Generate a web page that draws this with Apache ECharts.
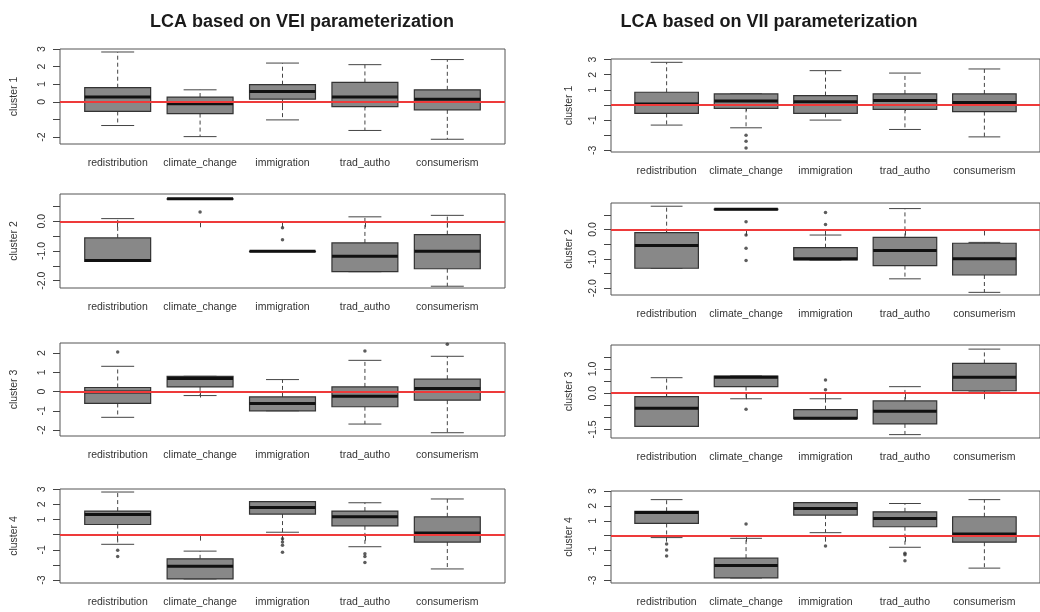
<!DOCTYPE html>
<html>
<head>
<meta charset="utf-8">
<script src="https://cdn.jsdelivr.net/npm/echarts@6/dist/echarts.min.js"></script>
<style>
  html, body { margin: 0; padding: 0; background: #ffffff; }
  #chart { width: 1040px; height: 612px; }
</style>
</head>
<body>
<div id="chart"></div>
<script>
// Indicators shown on every panel
const categories = ['redistribution', 'climate_change', 'immigration', 'trad_autho', 'consumerism'];

// Box summaries per indicator: [lower whisker, Q1, median, Q3, upper whisker]
// Outliers: [indicator position (1-5), value]

// --- LCA based on VEI parameterization ---
const veiCluster1 = [[-1.35, -0.55, 0.27, 0.80, 2.83], [-1.98, -0.67, -0.11, 0.27, 0.68], [-1.03, 0.15, 0.59, 0.97, 2.20], [-1.63, -0.27, 0.27, 1.10, 2.11], [-2.13, -0.46, 0.15, 0.68, 2.40]];
const veiCluster1Outliers = [];
const veiCluster2 = [[-1.35, -1.35, -1.32, -0.56, 0.09], [0.76, 0.76, 0.76, 0.76, 0.76], [-1.01, -1.01, -1.01, -1.01, -1.01], [-1.70, -1.70, -1.18, -0.73, 0.15], [-2.19, -1.60, -1.01, -0.45, 0.20]];
const veiCluster2Outliers = [[2, 0.31], [3, -0.22], [3, -0.62]];
const veiCluster3 = [[-1.34, -0.62, -0.02, 0.21, 1.31], [-0.21, 0.24, 0.67, 0.79, 0.79], [-1.00, -1.00, -0.62, -0.28, 0.62], [-1.69, -0.79, -0.24, 0.24, 1.62], [-2.14, -0.45, 0.16, 0.64, 1.83]];
const veiCluster3Outliers = [[1, 2.05], [4, 2.10], [5, 2.45]];
const veiCluster4 = [[-0.64, 0.67, 1.33, 1.56, 2.82], [-2.93, -2.93, -2.09, -1.60, -1.09], [0.16, 1.36, 1.80, 2.18, 2.18], [-0.80, 0.58, 1.18, 1.56, 2.11], [-2.27, -0.49, 0.11, 1.18, 2.36]];
const veiCluster4Outliers = [[1, -1.04], [1, -1.44], [3, -0.27], [3, -0.49], [3, -0.71], [3, -1.16], [4, -1.27], [4, -1.44], [4, -1.84]];

// --- LCA based on VII parameterization ---
const viiCluster1 = [[-1.33, -0.56, 0.07, 0.84, 2.82], [-1.51, -0.22, 0.27, 0.73, 0.73], [-1.00, -0.56, 0.22, 0.62, 2.27], [-1.62, -0.29, 0.29, 0.73, 2.11], [-2.11, -0.44, 0.16, 0.73, 2.38]];
const viiCluster1Outliers = [[2, -2.00], [2, -2.40], [2, -2.85]];
const viiCluster2 = [[-1.32, -1.32, -0.55, -0.11, 0.79], [0.69, 0.69, 0.69, 0.69, 0.69], [-1.04, -1.04, -1.00, -0.62, -0.19], [-1.68, -1.23, -0.72, -0.27, 0.71], [-2.14, -1.55, -1.00, -0.47, -0.44]];
const viiCluster2Outliers = [[2, 0.26], [2, -0.19], [2, -0.64], [2, -1.06], [3, 0.58], [3, 0.17]];
const viiCluster3 = [[-1.37, -1.37, -0.62, -0.14, 0.64], [-0.23, 0.27, 0.66, 0.71, 0.71], [-1.05, -1.05, -1.03, -0.68, -0.23], [-1.71, -1.27, -0.75, -0.32, 0.27], [0.05, 0.10, 0.66, 1.23, 1.82]];
const viiCluster3Outliers = [[2, -0.66], [3, 0.55], [3, 0.14]];
const viiCluster4 = [[-0.13, 0.82, 1.56, 1.64, 2.42], [-2.84, -2.84, -2.00, -1.51, -0.18], [0.20, 1.38, 1.82, 2.22, 2.22], [-0.78, 0.60, 1.16, 1.60, 2.16], [-2.18, -0.44, 0.11, 1.27, 2.42]];
const viiCluster4Outliers = [[1, -0.56], [1, -0.96], [1, -1.36], [2, 0.78], [3, -0.69], [4, -1.18], [4, -1.29], [4, -1.69]];

// Y-axis tick positions and the subset that carries a label
const ticksWhole3 = [-3, -2, -1, 0, 1, 2, 3];
const labelsWhole3 = [-3, -1, 1, 2, 3];
const ticksC1 = [-2, -1, 0, 1, 2, 3];
const labelsC1 = [-2, 0, 1, 2, 3];
const ticksHalf = [-2, -1.5, -1, -0.5, 0, 0.5];
const labelsHalf = [-2, -1, 0];
const ticksC3 = [-2, -1, 0, 1, 2];
const labelsC3 = [-2, -1, 0, 1, 2];
const ticksViiC3 = [-1.5, -1, -0.5, 0, 0.5, 1, 1.5];
const labelsViiC3 = [-1.5, 0, 1];

const titles = ['LCA based on VEI parameterization', 'LCA based on VII parameterization'];

// Panel layout (pixels) and axis ranges
const panels = [
  { name: 'cluster 1', box: veiCluster1, out: veiCluster1Outliers, left: 60, top: 49, width: 445, height: 95, yMin: -2.4, yMax: 3.0, ticks: ticksC1, labels: labelsC1, digits: 0, col: 0 },
  { name: 'cluster 2', box: veiCluster2, out: veiCluster2Outliers, left: 60, top: 194, width: 445, height: 94, yMin: -2.25, yMax: 0.92, ticks: ticksHalf, labels: labelsHalf, digits: 1, col: 0 },
  { name: 'cluster 3', box: veiCluster3, out: veiCluster3Outliers, left: 60, top: 343, width: 445, height: 93, yMin: -2.31, yMax: 2.52, ticks: ticksC3, labels: labelsC3, digits: 0, col: 0 },
  { name: 'cluster 4', box: veiCluster4, out: veiCluster4Outliers, left: 60, top: 489, width: 445, height: 94, yMin: -3.2, yMax: 3.02, ticks: ticksWhole3, labels: labelsWhole3, digits: 0, col: 0 },
  { name: 'cluster 1', box: viiCluster1, out: viiCluster1Outliers, left: 611, top: 59, width: 437, height: 93, yMin: -3.11, yMax: 3.04, ticks: ticksWhole3, labels: labelsWhole3, digits: 0, col: 1 },
  { name: 'cluster 2', box: viiCluster2, out: viiCluster2Outliers, left: 611, top: 203, width: 437, height: 92, yMin: -2.23, yMax: 0.90, ticks: ticksHalf, labels: labelsHalf, digits: 1, col: 1 },
  { name: 'cluster 3', box: viiCluster3, out: viiCluster3Outliers, left: 611, top: 345, width: 437, height: 93, yMin: -1.85, yMax: 1.99, ticks: ticksViiC3, labels: labelsViiC3, digits: 1, col: 1 },
  { name: 'cluster 4', box: viiCluster4, out: viiCluster4Outliers, left: 611, top: 491, width: 437, height: 92, yMin: -3.18, yMax: 3.0, ticks: ticksWhole3, labels: labelsWhole3, digits: 0, col: 1 }
];

const FONT = '"Liberation Sans", Arial, sans-serif';
const TEXT_COLOR = '#333333';
const FRAME_COLOR = '#555555';
const BOX_FILL = '#888888';
const BOX_EDGE = '#333333';
const WHISKER_COLOR = '#444444';
const BOX_WEX = 0.8;   // box width in axis units
const STAPLE = 0.5;    // whisker cap width relative to box width

// Draws one box-and-whisker in the panel's cartesian space
function renderBox(params, api) {
  const x = api.value(0);
  const lo = api.value(1), q1 = api.value(2), med = api.value(3), q3 = api.value(4), hi = api.value(5);
  const cx = api.coord([x, med])[0];
  const y = v => api.coord([x, v])[1];
  const half = api.size([BOX_WEX, 0])[0] / 2;
  const cap = half * STAPLE;
  const dashed = { stroke: WHISKER_COLOR, lineWidth: 1, lineDash: [4, 3] };
  const solid = { stroke: WHISKER_COLOR, lineWidth: 1 };
  return {
    type: 'group',
    children: [
      { type: 'line', shape: { x1: cx, y1: y(q3), x2: cx, y2: y(hi) }, style: dashed },
      { type: 'line', shape: { x1: cx, y1: y(q1), x2: cx, y2: y(lo) }, style: dashed },
      { type: 'line', shape: { x1: cx - cap, y1: y(hi), x2: cx + cap, y2: y(hi) }, style: solid },
      { type: 'line', shape: { x1: cx - cap, y1: y(lo), x2: cx + cap, y2: y(lo) }, style: solid },
      { type: 'rect', shape: { x: cx - half, y: y(q3), width: 2 * half, height: Math.max(y(q1) - y(q3), 0.5) },
        style: { fill: BOX_FILL, stroke: BOX_EDGE, lineWidth: 1.2 } },
      { type: 'line', shape: { x1: cx - half, y1: y(med), x2: cx + half, y2: y(med) }, style: { stroke: '#111111', lineWidth: 3 } }
    ]
  };
}

const positions = categories.map((c, i) => i + 1);

const grid = [], xAxis = [], yAxis = [], series = [];
panels.forEach((p, i) => {
  grid.push({ left: p.left, top: p.top, width: p.width, height: p.height, show: true, borderColor: FRAME_COLOR, borderWidth: 1 });
  xAxis.push({
    gridIndex: i, type: 'value', min: 0.3, max: 5.7,
    axisLine: { show: false }, splitLine: { show: false },
    axisTick: { show: true, customValues: positions, length: 6, lineStyle: { color: '#444444' } },
    axisLabel: { customValues: positions, formatter: v => categories[Math.round(v) - 1], fontSize: 10.5, fontFamily: FONT, color: TEXT_COLOR, margin: 14 }
  });
  yAxis.push({
    gridIndex: i, type: 'value', min: p.yMin, max: p.yMax,
    name: p.name, nameLocation: 'middle', nameGap: p.col === 0 ? 40 : 36,
    nameTextStyle: { fontSize: 10.5, fontFamily: FONT, color: TEXT_COLOR },
    axisLine: { show: false }, splitLine: { show: false },
    axisTick: { show: true, customValues: p.ticks, length: 7, lineStyle: { color: '#444444' } },
    axisLabel: { customValues: p.labels, rotate: 90, formatter: v => v.toFixed(p.digits), fontSize: 10.5, fontFamily: FONT, color: TEXT_COLOR, margin: 12 }
  });
  series.push({
    type: 'custom', xAxisIndex: i, yAxisIndex: i, silent: true, clip: false,
    encode: { x: 0, y: [1, 2, 3, 4, 5] },
    data: p.box.map((s, k) => [k + 1].concat(s)),
    renderItem: renderBox,
    markLine: {
      silent: true, symbol: 'none', label: { show: false },
      lineStyle: { color: '#ee3a3a', width: 2, type: 'solid' },
      data: [{ yAxis: 0 }]
    }
  });
  series.push({
    type: 'scatter', xAxisIndex: i, yAxisIndex: i, silent: true,
    symbol: 'circle', symbolSize: 3.5,
    itemStyle: { color: '#333333' },
    data: p.out
  });
});

const chart = echarts.init(document.getElementById('chart'), null, { renderer: 'canvas' });
chart.setOption({
  animation: false,
  backgroundColor: '#ffffff',
  title: [
    { text: titles[0], left: 297, top: 8, textAlign: 'center', textStyle: { fontSize: 18, fontWeight: 'bold', fontFamily: FONT, color: '#1a1a1a' } },
    { text: titles[1], left: 764, top: 8, textAlign: 'center', textStyle: { fontSize: 18, fontWeight: 'bold', fontFamily: FONT, color: '#1a1a1a' } }
  ],
  grid, xAxis, yAxis, series
});
</script>
</body>
</html>
